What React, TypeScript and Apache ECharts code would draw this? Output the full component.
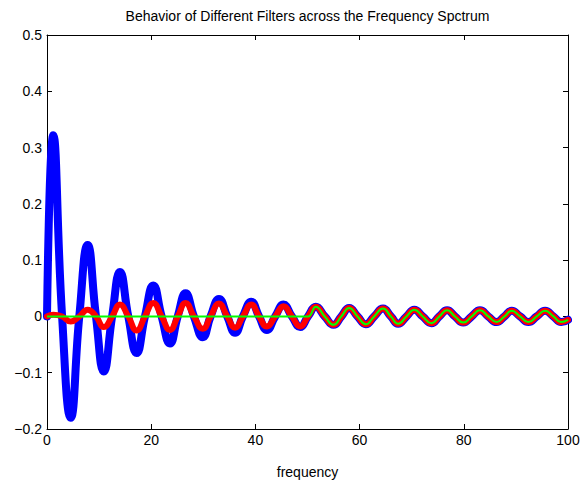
import React, { useEffect, useRef } from "react";
import * as echarts from "echarts";

// key points (peaks, troughs, zero crossings)
const freq = [
  0, 1.2, 2.9, 4.55, 6.2, 7.8, 9.4, 10.9, 12.5, 14.0, 15.6, 17.2, 18.8, 20.4, 22.0, 23.6, 25.1,
  26.6, 28.2, 29.9, 31.4, 33.0, 34.6, 36.1, 37.6, 39.2, 40.7, 42.2, 43.8, 45.4, 47.0, 48.6, 50.1,
  51.6, 53.3, 55.0, 56.5, 58.0, 59.6, 61.2, 62.8, 64.5, 66.0, 67.4, 69.0, 70.5, 72.1, 73.8, 75.3,
  76.8, 78.3, 79.9, 81.5, 83.1, 84.7, 86.3, 87.8, 89.2, 90.8, 92.4, 94.0, 95.6, 97.2, 98.7, 100,
];

const original = [
  0, 0.322, 0, -0.18, 0, 0.127, 0, -0.098, 0, 0.079, 0, -0.065, 0, 0.055, 0, -0.048, 0,
  0.041, 0, -0.037, 0, 0.031, 0, -0.029, 0, 0.026, 0, -0.024, 0, 0.021, 0, -0.019, 0,
  0.017, 0, -0.015, 0, 0.015, 0, -0.014, 0, 0.014, 0, -0.013, 0, 0.012, 0, -0.012, 0,
  0.011, 0, -0.011, 0, 0.011, 0, -0.01, 0, 0.01, 0, -0.01, 0, 0.01, 0, -0.01, -0.006,
];

const bandPass = [
  0, 0.003, 0, -0.009, 0, 0.012, 0, -0.019, 0, 0.021, 0, -0.025, 0, 0.024, 0, -0.024, 0,
  0.024, 0, -0.022, 0, 0.023, 0, -0.02, 0, 0.021, 0, -0.018, 0, 0.018, 0, -0.018, 0,
  0.017, 0, -0.015, 0, 0.015, 0, -0.014, 0, 0.014, 0, -0.013, 0, 0.012, 0, -0.012, 0,
  0.011, 0, -0.011, 0, 0.011, 0, -0.01, 0, 0.01, 0, -0.01, 0, 0.01, 0, -0.01, -0.006,
];

const highPass = [
  0, 0, 0, 0, 0, 0, 0, 0, 0, 0, 0, 0, 0, 0, 0, 0, 0,
  0, 0, 0, 0, 0, 0, 0, 0, 0, 0, 0, 0, 0, 0, 0, 0,
  0.017, 0, -0.015, 0, 0.015, 0, -0.014, 0, 0.014, 0, -0.013, 0, 0.012, 0, -0.012, 0,
  0.011, 0, -0.011, 0, 0.011, 0, -0.01, 0, 0.01, 0, -0.01, 0, 0.01, 0, -0.01, -0.006,
];

const xTicks = [0, 20, 40, 60, 80, 100];
const yTicks = [-0.2, -0.1, 0, 0.1, 0.2, 0.3, 0.4, 0.5];

const FONT = "'Liberation Sans', Arial, Helvetica, sans-serif";

export default function App() {
  const ref = useRef<HTMLDivElement>(null);
  useEffect(() => {
    if (!ref.current) return;
    const chart = echarts.init(ref.current, undefined, { renderer: "svg" });
    const pairs = (ys: number[]) => freq.map((x, i) => [x, ys[i]]);
    const axisCommon = {
      axisLine: { show: true, onZero: false, lineStyle: { color: "#000", width: 1 } },
      axisTick: { show: true, inside: true, length: 5, lineStyle: { color: "#000" } },
      splitLine: { show: false },
    };
    chart.setOption({
      animation: false,
      backgroundColor: "#fff",
      title: {
        text: "Behavior of Different Filters across the Frequency Spctrum",
        left: 307.5,
        top: 9,
        padding: 0,
        textAlign: "center",
        textStyle: { fontFamily: FONT, fontSize: 14, fontWeight: "normal", color: "#000" },
      },
      grid: { left: 47, right: 15, top: 35, bottom: 40 },
      xAxis: [
        {
          type: "value",
          min: xTicks[0],
          max: xTicks[xTicks.length - 1],
          interval: 20,
          name: "frequency",
          nameLocation: "middle",
          nameGap: 36,
          nameTextStyle: { fontFamily: FONT, fontSize: 14, color: "#000" },
          axisLabel: { fontFamily: FONT, fontSize: 14, color: "#000", margin: 4 },
          ...axisCommon,
        },
        {
          type: "value",
          position: "top",
          min: xTicks[0],
          max: xTicks[xTicks.length - 1],
          interval: 20,
          axisLabel: { show: false },
          ...axisCommon,
        },
      ],
      yAxis: [
        {
          type: "value",
          min: yTicks[0],
          max: yTicks[yTicks.length - 1],
          interval: 0.1,
          axisLabel: {
            fontFamily: FONT,
            fontSize: 14,
            color: "#000",
            margin: 5,
            formatter: (v: number) => {
              const s = Math.abs(v) < 1e-9 ? "0" : Math.abs(v).toFixed(1);
              return v < -1e-9 ? "\u2212" + s : s;
            },
          },
          ...axisCommon,
        },
        {
          type: "value",
          position: "right",
          min: yTicks[0],
          max: yTicks[yTicks.length - 1],
          interval: 0.1,
          axisLabel: { show: false },
          ...axisCommon,
        },
      ],
      series: [
        {
          type: "line",
          name: "original",
          data: pairs(original),
          smooth: true,
          symbol: "none",
          lineStyle: { color: "#0000ff", width: 8, cap: "round", join: "round" },
        },
        {
          type: "line",
          name: "band-pass",
          data: pairs(bandPass),
          smooth: true,
          symbol: "none",
          lineStyle: { color: "#ff0000", width: 6, cap: "round", join: "round" },
        },
        {
          type: "line",
          name: "high-pass",
          data: pairs(highPass),
          smooth: true,
          symbol: "none",
          lineStyle: { color: "#00ff00", width: 2, join: "round" },
        },
      ],
    });
    return () => chart.dispose();
  }, []);
  return (
    <div
      ref={ref}
      style={{ position: "fixed", left: 0, top: 0, width: 583, height: 484, background: "#fff" }}
    />
  );
}
